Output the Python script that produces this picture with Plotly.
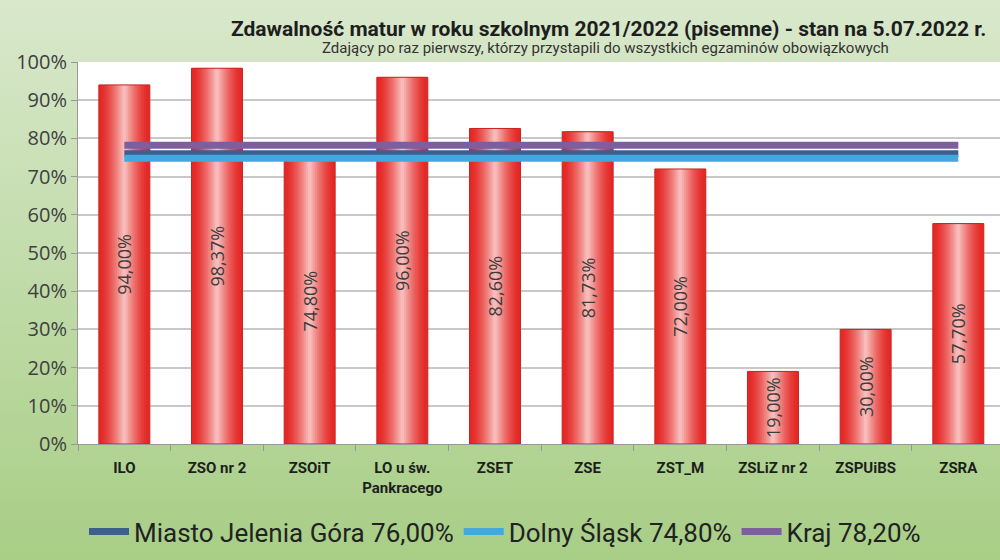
import base64
import plotly.graph_objects as go

szkoly = ['ILO', 'ZSO nr 2', 'ZSOiT', 'LO u św.<br>Pankracego', 'ZSET', 'ZSE',
          'ZST_M', 'ZSLiZ nr 2', 'ZSPUiBS', 'ZSRA']
zdawalnosc = [94.00, 98.37, 74.80, 96.00, 82.60, 81.73, 72.00, 19.00, 30.00, 57.70]
etykiety = ['94,00%', '98,37%', '74,80%', '96,00%', '82,60%', '81,73%',
            '72,00%', '19,00%', '30,00%', '57,70%']

miasto = 76.00
dolny_slask = 74.80
kraj = 78.20

y_ticks = [0, 10, 20, 30, 40, 50, 60, 70, 80, 90, 100]
y_labels = [f'{v}%' for v in y_ticks]

# tlo z gradientem (zielone jak w excelu)
svg = ('<svg xmlns="http://www.w3.org/2000/svg" width="10" height="100" preserveAspectRatio="none">'
       '<defs><linearGradient id="g" x1="0" y1="0" x2="0" y2="1">'
       '<stop offset="0" stop-color="#d9e8cc"/><stop offset="1" stop-color="#a8ce86"/>'
       '</linearGradient></defs><rect width="10" height="100" fill="url(#g)"/></svg>')
tlo = 'data:image/svg+xml;base64,' + base64.b64encode(svg.encode()).decode()

L, R, T, B = 78, 0, 62, 116
W, H = 1000 - L - R, 560 - T - B

fig = go.Figure()

# slupki - czerwony "walec", warstwy od brzegu (ciemny) do srodka (jasny)
brzeg = (228, 40, 36)
srodek = (247, 188, 186)
n = 14
for i in range(n):
    t = (i / (n - 1)) ** 1.5
    kolor = 'rgb({},{},{})'.format(*[round(a + (b - a) * t) for a, b in zip(brzeg, srodek)])
    szer = 0.55 * (1 - i / n)
    fig.add_trace(go.Bar(x=szkoly, y=zdawalnosc, width=szer, marker_color=kolor,
                         marker_line_width=0, showlegend=False, hoverinfo='skip'))

fig.add_trace(go.Bar(x=szkoly, y=zdawalnosc, width=0.55, marker_color='rgba(0,0,0,0)',
                     marker_line=dict(color='#c92420', width=1),
                     text=etykiety, textposition='inside',
                     textangle=-90, insidetextanchor='middle', constraintext='none',
                     textfont=dict(size=18, color='#3c3c3c', family='Open Sans'),
                     showlegend=False, hoverinfo='skip'))

fig.add_trace(go.Scatter(x=szkoly, y=[miasto] * len(szkoly), mode='lines',
                         line=dict(color='#3c5f8f', width=7), name='Miasto Jelenia Góra 76,00%'))
fig.add_trace(go.Scatter(x=szkoly, y=[dolny_slask] * len(szkoly), mode='lines',
                         line=dict(color='#41a8e0', width=7), name='Dolny Śląsk 74,80%'))
fig.add_trace(go.Scatter(x=szkoly, y=[kraj] * len(szkoly), mode='lines',
                         line=dict(color='#7d5fa0', width=7), name='Kraj 78,20%'))

fig.update_layout(
    width=1000, height=560,
    margin=dict(l=L, r=R, t=T, b=B),
    barmode='overlay',
    paper_bgcolor='#c0dca6',
    plot_bgcolor='#ffffff',
    font=dict(family='Roboto, sans-serif', color='#2b2b2b'),
    images=[dict(source=tlo, xref='paper', yref='paper', x=-L / W, y=1 + T / H,
                 sizex=1000 / W, sizey=560 / H, sizing='stretch', layer='below',
                 xanchor='left', yanchor='top')],
    shapes=[dict(type='rect', xref='paper', yref='paper', x0=0, x1=1, y0=0, y1=1,
                 fillcolor='#ffffff', line_width=0, layer='below')],
    annotations=[
        dict(text='<b>Zdawalność matur w roku szkolnym 2021/2022 (pisemne) - stan na 5.07.2022 r.</b>',
             xref='paper', yref='paper', x=(608 - L) / W, y=1 + (T - 15) / H,
             showarrow=False, font=dict(size=21, color='#1e1e1e')),
        dict(text='Zdający po raz pierwszy, którzy przystapili do wszystkich egzaminów obowiązkowych',
             xref='paper', yref='paper', x=(605 - L) / W, y=1 + (T - 37) / H,
             showarrow=False, font=dict(size=15, color='#333333')),
    ],
    legend=dict(orientation='h', x=(505 - L) / W, xanchor='center', y=-0.168, yanchor='top',
                font=dict(size=26, color='#222222'), bgcolor='rgba(0,0,0,0)',
                itemwidth=40, tracegroupgap=0),
)

fig.update_xaxes(
    range=[-0.5, 9.45],
    showgrid=False,
    ticks='outside', ticklen=6, tickcolor='#999999', tickson='boundaries',
    showline=True, linecolor='#999999',
    ticklabelstandoff=10,
    tickfont=dict(size=15, color='#1e1e1e', weight='bold'),
)

fig.update_yaxes(
    range=[0, 100],
    tickvals=y_ticks, ticktext=y_labels,
    showgrid=True, gridcolor='#c8c8c8', gridwidth=2,
    ticks='outside', ticklen=6, tickcolor='#999999',
    showline=True, linecolor='#999999',
    zeroline=False,
    tickfont=dict(size=20, color='#404040', family='Open Sans'),
)

fig.write_html('out.html', config={'displayModeBar': False},
               post_script="document.body.style.margin='0';")
